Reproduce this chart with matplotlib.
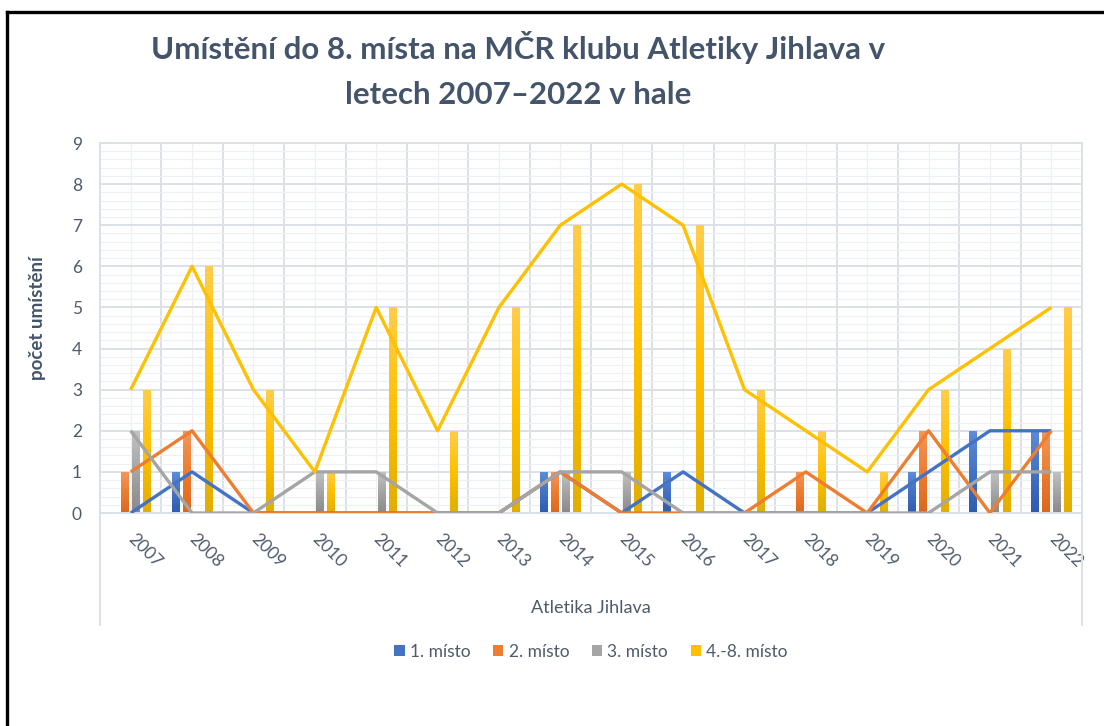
import numpy as np
import matplotlib
matplotlib.use('Agg')
import matplotlib.pyplot as plt
from matplotlib.colors import LinearSegmentedColormap
from matplotlib.lines import Line2D
from matplotlib.patches import Patch

years = [str(y) for y in range(2007, 2023)]
series_names = ['1. místo', '2. místo', '3. místo', '4.-8. místo']
first = [0, 1, 0, 0, 0, 0, 0, 1, 0, 1, 0, 0, 0, 1, 2, 2]
second = [1, 2, 0, 0, 0, 0, 0, 1, 0, 0, 0, 1, 0, 2, 0, 2]
third = [2, 0, 0, 1, 1, 0, 0, 1, 1, 0, 0, 0, 0, 0, 1, 1]
fourth_to_eighth = [3, 6, 3, 1, 5, 2, 5, 7, 8, 7, 3, 2, 1, 3, 4, 5]

colors = ['#4472C4', '#ED7D31', '#A5A5A5', '#FFC000']
grad_top = ['#5E8CD8', '#F4965C', '#C2C2C2', '#FFCD4A']
grad_bottom = ['#2D5CB0', '#DD681C', '#8A8A8A', '#E2AE00']
text_color = '#4F5A6B'
title_color = '#44546A'

plt.rcParams['font.family'] = ['Lato', 'DejaVu Sans']

fig = plt.figure(figsize=(11.04, 7.26), dpi=100)
ax = fig.add_axes([100 / 1104, 1 - 513 / 726, 982 / 1104, 370 / 726])

x = np.arange(len(years))
values = [first, second, third, fourth_to_eighth]
offsets = [-0.27, -0.09, 0.09, 0.27]
width = 0.13

grad = np.linspace(0, 1, 64).reshape(-1, 1)
for vals, off, c, top, bot in zip(values, offsets, colors, grad_top, grad_bottom):
    bars = ax.bar(x + off, vals, width=width, color=c, zorder=2)
    cmap = LinearSegmentedColormap.from_list('g', [bot, c, top])
    for b in bars:
        h = b.get_height()
        if h <= 0:
            continue
        x0 = b.get_x()
        im = ax.imshow(grad, extent=[x0, x0 + b.get_width(), 0, h], cmap=cmap,
                       origin='lower', aspect='auto', zorder=2.1)
        im.set_clip_path(b)

for vals, c in zip(values, colors):
    ax.plot(x, vals, color=c, lw=2.4, zorder=3, solid_capstyle='butt')

ax.set_xlim(-0.5, len(years) - 0.5)
ax.set_ylim(0, 9)
ax.set_yticks(range(0, 10))
ax.set_yticks(np.arange(0, 9.01, 0.2), minor=True)
ax.set_xticks(x)
ax.set_xticks(np.arange(-0.5, len(years)), minor=True)
ax.set_xticklabels(years)

ax.set_axisbelow(True)
ax.yaxis.grid(True, which='major', color='#DCE0E7', lw=1.4)
ax.yaxis.grid(True, which='minor', color='#EEF0F4', lw=0.9)
ax.xaxis.grid(True, which='minor', color='#DCE0E7', lw=1.4)
ax.xaxis.grid(True, which='major', color='#EEF0F4', lw=0.9)

ax.tick_params(which='both', length=0)
ax.tick_params(axis='y', pad=13, labelsize=12.5, labelcolor=text_color)
ax.tick_params(axis='x', pad=17, labelsize=12.5, labelcolor=text_color)
plt.setp(ax.get_xticklabels(), rotation=-45, ha='left', va='center',
         rotation_mode='anchor')

for side in ['left', 'right', 'top', 'bottom']:
    ax.spines[side].set_color('#DCE0E7')
    ax.spines[side].set_linewidth(1.4)

# plot area outline continues below the axis
for xp in [100 / 1104, 1082 / 1104]:
    fig.add_artist(Line2D([xp, xp], [1 - 625 / 726, 1 - 513 / 726],
                          color='#DCE0E7', lw=1.4))

# outer black frame (top and left)
fig.add_artist(Line2D([7 / 1104, 1], [1 - 12 / 726, 1 - 12 / 726], color='black', lw=2.4))
fig.add_artist(Line2D([7 / 1104, 7 / 1104], [0, 1 - 12 / 726], color='black', lw=2.4))

fig.text(518 / 1104, 1 - 48 / 726, 'Umístění do 8. místa na MČR klubu Atletiky Jihlava v',
         ha='center', va='center', fontsize=22.5, fontweight='bold', color=title_color)
fig.text(518 / 1104, 1 - 95 / 726, 'letech 2007–2022 v hale',
         ha='center', va='center', fontsize=22.5, fontweight='bold', color=title_color)

fig.text(38 / 1104, 1 - 318 / 726, 'počet umístění', rotation=90, ha='center', va='center',
         fontsize=13.5, fontweight='bold', color=title_color)
fig.text(591 / 1104, 1 - 608 / 726, 'Atletika Jihlava', ha='center', va='center',
         fontsize=13, color=text_color)

handles = [Patch(facecolor=c, edgecolor='none') for c in colors]
fig.legend(handles, series_names, loc='center', bbox_to_anchor=(591 / 1104, 1 - 652 / 726),
           ncol=4, frameon=False, fontsize=12.5, labelcolor=text_color,
           handlelength=0.6, handleheight=0.6, handletextpad=0.3, columnspacing=1.3)

plt.savefig('out.png', dpi=100)
